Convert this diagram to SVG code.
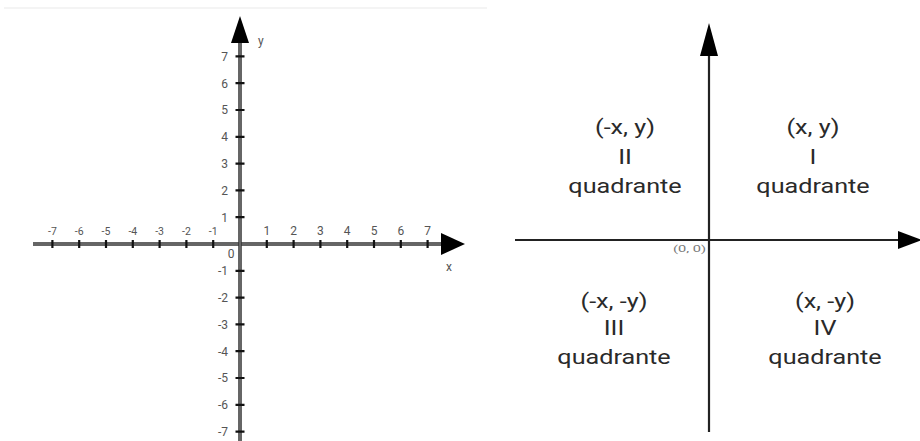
<svg xmlns="http://www.w3.org/2000/svg" width="920" height="441" viewBox="0 0 920 441">
<style>
.axis-out{stroke:#333;stroke-width:3.5;fill:none}
.axis-in{stroke:#999;stroke-width:1;fill:none}
.tick{stroke:#111;stroke-width:2.2;fill:none}
.lbl{font-family:Roboto,"Liberation Sans",sans-serif;font-size:12px;fill:#555}
.neg{font-size:10.5px}
.ax2{stroke:#222;stroke-width:2.2;fill:none}
.q{font-family:Roboto,"Liberation Sans",sans-serif;font-size:21px;fill:#2a2a2a;text-anchor:middle}
.o{font-family:Roboto,"Liberation Sans",sans-serif;font-size:9.5px;fill:#777;text-anchor:end}
</style>
<rect width="920" height="441" fill="#fff"/>
<line x1="4" y1="8" x2="487" y2="8" stroke="#f0f0f0" stroke-width="1.5"/>
<g id="connectors">
  <g id="left-axes">
    <line class="axis-out" x1="33" y1="244" x2="443" y2="244"/>
    <line class="axis-in" x1="33" y1="244" x2="443" y2="244"/>
    <line class="axis-out" x1="240" y1="42" x2="240" y2="441"/>
    <line class="axis-in" x1="240" y1="42" x2="240" y2="441"/>
    <polygon points="465,244 441,233 441,255" fill="#000"/>
    <polygon points="240,16 231,43 249,43" fill="#000"/>
  </g>
  <g id="right-axes">
    <line class="ax2" x1="515" y1="240" x2="900" y2="240"/>
    <line class="ax2" x1="709" y1="53" x2="709" y2="432"/>
    <polygon points="709,23 700,56 718,56" fill="#000"/>
    <polygon points="922,240 898,231 898,249" fill="#000"/>
  </g>
</g>
<g id="ticks" class="tick">
  <path d="M52.4 240v8M79.2 240v8M106 240v8M132.8 240v8M159.6 240v8M186.4 240v8M213.2 240v8M266.8 240v8M293.6 240v8M320.4 240v8M347.2 240v8M374 240v8M400.8 240v8M427.6 240v8"/>
  <path d="M235.5 56.4h9M235.5 83.2h9M235.5 110h9M235.5 136.8h9M235.5 163.6h9M235.5 190.4h9M235.5 217.2h9M235.5 270.8h9M235.5 297.6h9M235.5 324.4h9M235.5 351.2h9M235.5 378h9M235.5 404.8h9M235.5 431.6h9"/>
</g>
<g id="x-labels" class="lbl" text-anchor="middle">
  <text class="neg" x="52.4" y="235">-7</text>
  <text class="neg" x="79.2" y="235">-6</text>
  <text class="neg" x="106" y="235">-5</text>
  <text class="neg" x="132.8" y="235">-4</text>
  <text class="neg" x="159.6" y="235">-3</text>
  <text class="neg" x="186.4" y="235">-2</text>
  <text class="neg" x="213.2" y="235">-1</text>
  <text x="266.8" y="235">1</text>
  <text x="293.6" y="235">2</text>
  <text x="320.4" y="235">3</text>
  <text x="347.2" y="235">4</text>
  <text x="374" y="235">5</text>
  <text x="400.8" y="235">6</text>
  <text x="427.6" y="235">7</text>
  <text x="231" y="258">0</text>
</g>
<g id="y-labels" class="lbl" text-anchor="end">
  <text x="228" y="60.7">7</text>
  <text x="228" y="87.5">6</text>
  <text x="228" y="114.3">5</text>
  <text x="228" y="141.1">4</text>
  <text x="228" y="167.9">3</text>
  <text x="228" y="194.7">2</text>
  <text x="228" y="221.5">1</text>
  <text x="228" y="275.1">-1</text>
  <text x="228" y="301.9">-2</text>
  <text x="228" y="328.7">-3</text>
  <text x="228" y="355.5">-4</text>
  <text x="228" y="382.3">-5</text>
  <text x="228" y="409.1">-6</text>
  <text x="228" y="435.9">-7</text>
</g>
<text class="lbl" x="258" y="45">y</text>
<text class="lbl" x="446" y="271">x</text>
<text class="o" x="706" y="252" textLength="33" lengthAdjust="spacingAndGlyphs">(0, 0)</text>
<g id="q2" transform="translate(625,0) scale(1.2,1)">
  <text class="q" x="0" y="134">(-x, y)</text>
  <text class="q" x="0" y="164">II</text>
  <text class="q" x="0" y="193">quadrante</text>
</g>
<g id="q1" transform="translate(813,0) scale(1.2,1)">
  <text class="q" x="0" y="134">(x, y)</text>
  <text class="q" x="0" y="164">I</text>
  <text class="q" x="0" y="193">quadrante</text>
</g>
<g id="q3" transform="translate(614,0) scale(1.2,1)">
  <text class="q" x="0" y="308">(-x, -y)</text>
  <text class="q" x="0" y="335">III</text>
  <text class="q" x="0" y="364">quadrante</text>
</g>
<g id="q4" transform="translate(825,0) scale(1.2,1)">
  <text class="q" x="0" y="308">(x, -y)</text>
  <text class="q" x="0" y="335">IV</text>
  <text class="q" x="0" y="364">quadrante</text>
</g>
</svg>
